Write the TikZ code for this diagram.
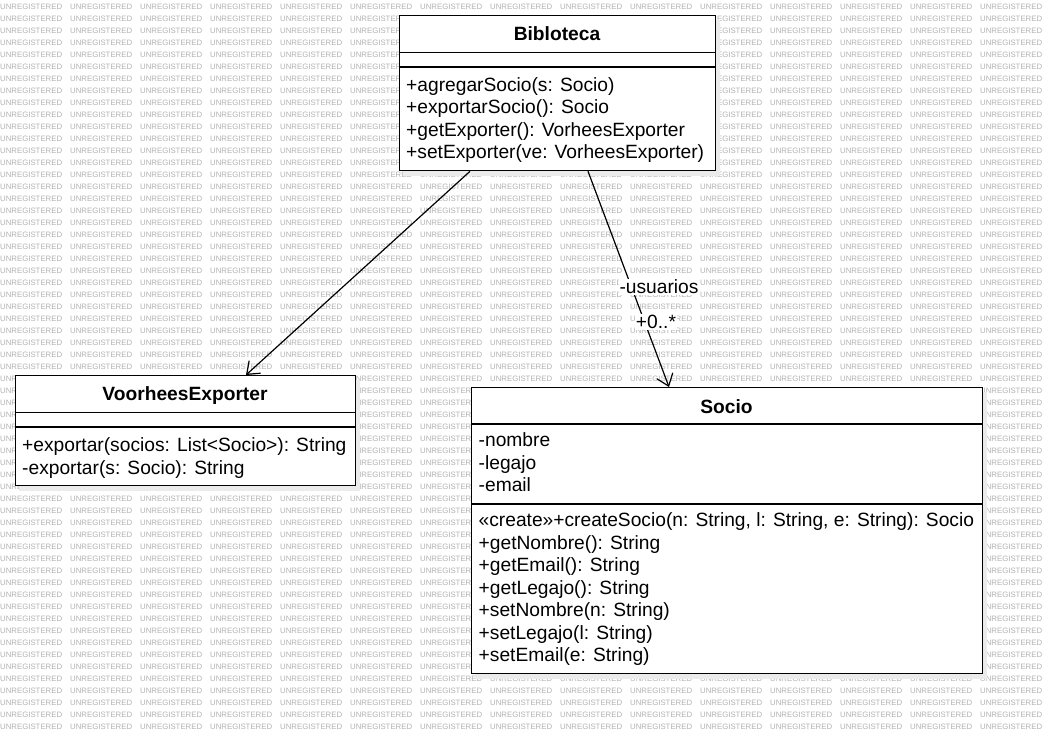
\documentclass[tikz,border=0pt]{standalone}
\usepackage{fontspec}
\setmainfont{Liberation Sans}
\usetikzlibrary{arrows.meta,calc}
\begin{document}
\begin{tikzpicture}[x=1pt,y=-1pt,
  font=\fontsize{19.2}{22.7}\selectfont,
  wm/.style={anchor=west, inner sep=0pt, text=black!30, font=\fontsize{7.8}{8}\selectfont},
  classbox/.style={draw=black, line width=1.3pt, fill=white, inner sep=0pt, anchor=north west},
  shadowbox/.style={fill=black!8},
  sepline/.style={draw=black, line width=1.3pt},
  title/.style={anchor=base, inner sep=0pt, font=\fontsize{19.2}{22.7}\selectfont\bfseries},
  member/.style={anchor=base west, inner sep=0pt},
  assoc/.style={draw=black, line width=1.2pt, -{Straight Barb[length=11pt,width=17pt,line width=1.2pt]}},
  edgelabel/.style={fill=white, inner sep=1pt}]
\useasboundingbox (0,0) rectangle (1042,733);
\fill[white] (0,0) rectangle (1042,733);
% watermark
\begin{scope}
\clip (0,0) rectangle (1042,733);
\foreach \j in {0,...,14} {
  \foreach \k in {0,...,60} {
    \node[wm] (wm-\j-\k) at (70*\j, 6.7+12*\k) {UNREGISTERED};
  }
}
\end{scope}
% shadows
\fill[shadowbox] (403,20) rectangle (720,176);
\fill[shadowbox] (19,380) rectangle (360,491);
\fill[shadowbox] (475,392) rectangle (987,679);
% Bibloteca
\node[classbox, minimum width=316pt, minimum height=155pt] (bib) at (399,15) {};
\draw[sepline] ($(bib.north west)+(0,37.5)$) -- ($(bib.north east)+(0,37.5)$);
\draw[sepline] ($(bib.north west)+(0,52)$) -- ($(bib.north east)+(0,52)$);
\node[title] (bibT) at (557,40.7) {Bibloteca};
\node[member] (bib1) at (406,91.7) {+agregarSocio(s: Socio)};
\node[member] (bib2) at (406,114) {+exportarSocio(): Socio};
\node[member] (bib3) at (406,136.3) {+getExporter(): VorheesExporter};
\node[member] (bib4) at (406,158.6) {+setExporter(ve: VorheesExporter)};
% VoorheesExporter
\node[classbox, minimum width=340pt, minimum height=110pt] (ve) at (15,375) {};
\draw[sepline] ($(ve.north west)+(0,37.5)$) -- ($(ve.north east)+(0,37.5)$);
\draw[sepline] ($(ve.north west)+(0,52)$) -- ($(ve.north east)+(0,52)$);
\node[title] (veT) at (185,400.7) {VoorheesExporter};
\node[member] (ve1) at (22,451.7) {+exportar(socios: List<Socio>): String};
\node[member] (ve2) at (22,474) {-exportar(s: Socio): String};
% Socio
\node[classbox, minimum width=511pt, minimum height=286pt] (soc) at (471,387) {};
\draw[sepline] ($(soc.north west)+(0,37)$) -- ($(soc.north east)+(0,37)$);
\draw[sepline] ($(soc.north west)+(0,117)$) -- ($(soc.north east)+(0,117)$);
\node[title] (socT) at (726.5,413.3) {Socio};
\node[member] (s1) at (478.5,446.7) {-nombre};
\node[member] (s2) at (478.5,469.3) {-legajo};
\node[member] (s3) at (478.5,491.7) {-email};
\node[member] (m1) at (478.5,526.7) {«create»+createSocio(n: String, l: String, e: String): Socio};
\node[member] (m2) at (478.5,549.3) {+getNombre(): String};
\node[member] (m3) at (478.5,571.7) {+getEmail(): String};
\node[member] (m4) at (478.5,594.3) {+getLegajo(): String};
\node[member] (m5) at (478.5,616.7) {+setNombre(n: String)};
\node[member] (m6) at (478.5,639.3) {+setLegajo(l: String)};
\node[member] (m7) at (478.5,661.7) {+setEmail(e: String)};
% connectors
\draw[assoc] ($(bib.south west)+(71,0)$) -- ($(ve.north west)+(231,0)$);
\draw[assoc] ($(bib.south west)+(189,0)$) -- ($(soc.north west)+(198,0)$);
\node[edgelabel] (lab1) at (659,287) {-usuarios};
\node[edgelabel] (lab2) at (656,322) {+0..*};
\end{tikzpicture}
\end{document}
